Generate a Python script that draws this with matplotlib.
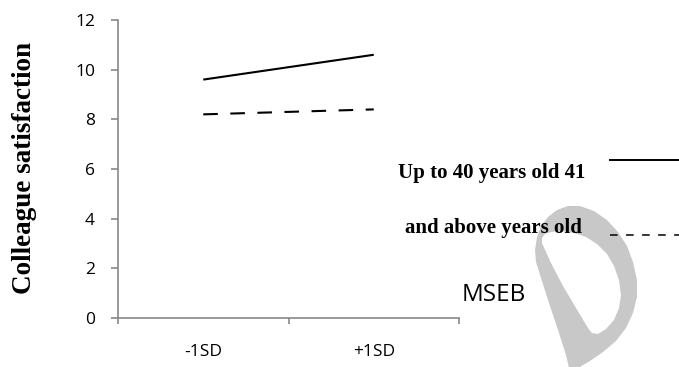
import matplotlib.pyplot as plt
from matplotlib.path import Path
from matplotlib.patches import PathPatch
from matplotlib.lines import Line2D

# data
categories = ['-1SD', '+1SD']
young = [9.6, 10.6]      # Up to 40 years old
older = [8.2, 8.4]       # 41 and above years old
yticks = [0, 2, 4, 6, 8, 10, 12]

W, H = 679, 367
fig = plt.figure(figsize=(W/100, H/100), dpi=100)
ax = fig.add_axes([118/W, 1-318/H, (459-118)/W, (318-20)/H])

x = range(len(categories))
ax.plot(x, young, color='black', lw=1.5, solid_capstyle='butt')
ax.plot(x, older, color='black', lw=1.5, dashes=(7, 6))

axcol = '#878787'
ax.set_xlim(-0.5, 1.5)
ax.set_ylim(0, 12)
ax.set_yticks(yticks)
ax.set_xticks(list(x))
ax.set_xticklabels(categories)
ax.set_xticks([-0.5, 0.5, 1.5], minor=True)
for s in ['top', 'right']:
    ax.spines[s].set_visible(False)
for s in ['left', 'bottom']:
    ax.spines[s].set_color(axcol)
    ax.spines[s].set_linewidth(1.2)
tickfont = 'Open Sans'
ax.tick_params(axis='y', length=5, width=1.2, color=axcol, pad=11.5, labelsize=12.5)
ax.tick_params(axis='x', which='major', length=0, pad=19, labelsize=12.5)
ax.tick_params(axis='x', which='minor', length=4, width=1.2, color=axcol)
for lab in ax.get_xticklabels() + ax.get_yticklabels():
    lab.set_fontfamily(tickfont)

fig.text(25/W, 1-168/H, 'Colleague satisfaction', rotation=90, ha='center', va='center',
         family='Liberation Serif', weight='bold', fontsize=19.5)

# watermark (grey "D" logo behind the legend)
def px(pts):
    return [(a/W, 1-b/H) for a, b in pts]

outer = [(535,250),(537,237),(541,226),(548,217),(557,210),(568,206),(580,206),(594,211),
         (607,220),(618,232),(627,246),(633,262),(637,280),(637,297),(633,313),(626,328),
         (616,341),(603,352),(590,361),(578,368),(569,368),(566,355),(558,330),(549,303),
         (541,278),(536,262)]
inner = [(542,243),(542,238),(545,234),(551,232),(562,231),(574,233),(586,237),(597,244),
         (607,254),(614,266),(619,280),(621,295),(619,308),(614,320),(606,329),(598,334),
         (592,333),(588,328),(576,308),(563,286),(551,263)][::-1]
verts = px(outer) + [px(outer)[0]] + px(inner) + [px(inner)[0]]
codes = ([Path.MOVETO] + [Path.LINETO]*(len(outer)-1) + [Path.CLOSEPOLY] +
         [Path.MOVETO] + [Path.LINETO]*(len(inner)-1) + [Path.CLOSEPOLY])
fig.add_artist(PathPatch(Path(verts, codes), transform=fig.transFigure,
                         facecolor='#c8c8c8', edgecolor='none', zorder=0))

# legend
fig.text(492/W, 1-173/H, 'Up to 40 years old 41', ha='center', va='center',
         family='Liberation Serif', weight='bold', fontsize=15, zorder=3)
fig.text(493/W, 1-228/H, 'and above years old', ha='center', va='center',
         family='Liberation Serif', weight='bold', fontsize=15, zorder=3)
fig.add_artist(Line2D([610/W, 1.0], [1-160/H]*2, color='black', lw=1.4))
fig.add_artist(Line2D([610/W, 1.0], [1-235/H]*2, color='black', lw=1.1, dashes=(5, 5.5)))
fig.text(494/W, 1-295/H, 'MSEB', ha='center', va='center', family='Open Sans',
         fontsize=17.5, zorder=3)

fig.savefig('out.png', dpi=100)
